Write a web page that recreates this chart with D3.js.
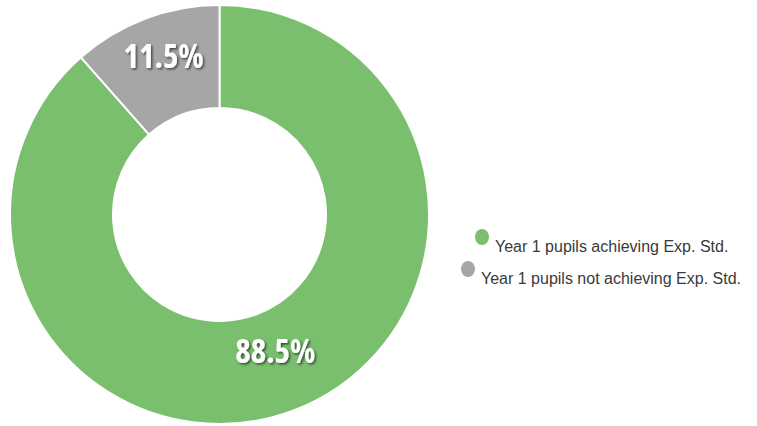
<!DOCTYPE html>
<html>
<head>
<meta charset="utf-8">
<script src="https://cdn.jsdelivr.net/npm/d3@7.9.0/dist/d3.min.js"></script>
<style>
  body { margin: 0; background: #fff; }
  .pct { font-family: "Liberation Sans Narrow", "Open Sans", sans-serif; font-weight: bold; font-stretch: condensed; fill: #fff; }
  .legend-text { font-family: "Liberation Sans", Arial, sans-serif; font-size: 16px; fill: #3a3a3a; }
</style>
</head>
<body>
<svg id="chart" width="757" height="426"></svg>
<script>
const labels = ['Year 1 pupils achieving Exp. Std.', 'Year 1 pupils not achieving Exp. Std.'];
const values = [88.5, 11.5];
const colors = ['#79bf6d', '#a6a6a6'];

const svg = d3.select('#chart');

const defs = svg.append('defs');
const shadow = defs.append('filter').attr('id', 'shadow')
  .attr('x', '-20%').attr('y', '-20%').attr('width', '140%').attr('height', '140%');
shadow.append('feDropShadow')
  .attr('dx', 1.5).attr('dy', 1.5).attr('stdDeviation', 1.2)
  .attr('flood-color', '#000').attr('flood-opacity', 0.6);

const cx = 219.5, cy = 214.5;
const outer = 209.5, inner = 106.5;

const data = values.map((v, i) => ({ value: v, label: labels[i], color: colors[i] }));

let pie = d3.pie().value(d => d.value).sort(null);
let arcGen = d3.arc().innerRadius(inner).outerRadius(outer);
let arcs = pie(data);

let g = svg.append('g').attr('transform', `translate(${cx},${cy})`);

g.selectAll('path')
  .data(arcs)
  .enter()
  .append('path')
  .attr('d', arcGen)
  .attr('fill', d => d.data.color)
  .attr('stroke', '#fff')
  .attr('stroke-width', 2);

// percentage labels at the slice centroid
g.selectAll('text')
  .data(arcs)
  .enter()
  .append('text')
  .attr('class', 'pct')
  .attr('x', d => arcGen.centroid(d)[0])
  .attr('y', d => arcGen.centroid(d)[1] + 1)
  .attr('text-anchor', 'middle')
  .attr('font-size', 33)
  .attr('filter', 'url(#shadow)')
  .text(d => d3.format('.1f')(d.data.value) + '%');

// legend
let legend = svg.append('g');
let legendPos = [[482, 237], [468, 269]];
data.forEach((d, i) => {
  let item = legend.append('g').attr('transform', `translate(${legendPos[i][0]},${legendPos[i][1]})`);
  item.append('ellipse').attr('rx', 7).attr('ry', 8).attr('fill', d.color);
  item.append('text')
    .attr('class', 'legend-text')
    .attr('x', 13)
    .attr('y', 15)
    .text(d.label);
});
</script>
</body>
</html>
